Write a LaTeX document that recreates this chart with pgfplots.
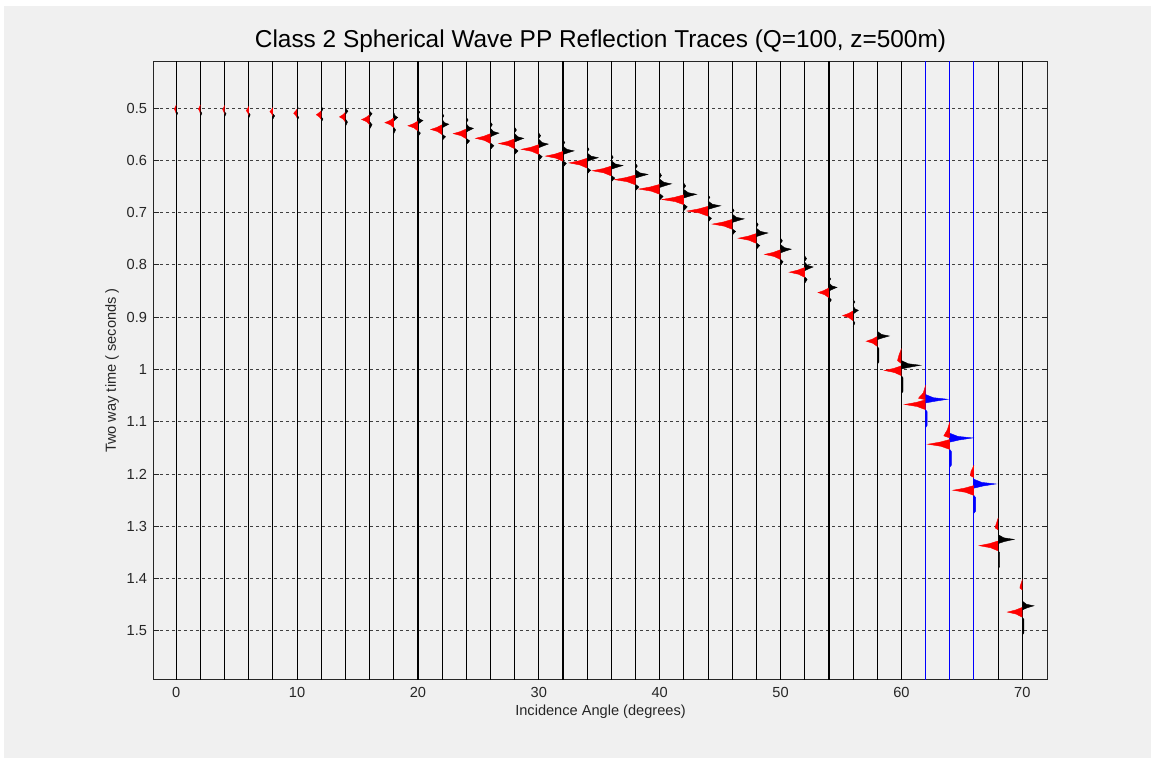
\documentclass[border=0pt]{standalone}
\usepackage{pgfplots}
\pgfplotsset{compat=1.18}
\usepackage{fontspec}
\setmainfont{Liberation Sans}
\definecolor{figgrey}{RGB}{240,240,240}
\definecolor{axcol}{RGB}{38,38,38}
\begin{document}
\begin{tikzpicture}
\useasboundingbox (-77pt,-39.5pt) rectangle (498.5pt,339.5pt);
\fill[white] (-77pt,-39.5pt) rectangle (498.5pt,339.5pt);
\fill[figgrey] (-75pt,-39.5pt) rectangle (498.5pt,336.5pt);
\begin{axis}[
  scale only axis, width=446.5pt, height=308.5pt,
  xmin=-1.84, xmax=72.04, ymin=0.412, ymax=1.592, y dir=reverse,
  unbounded coords=jump,
  xtick={0,10,20,30,40,50,60,70},
  xticklabels={0,10,20,30,40,50,60,70},
  ytick={0.5,0.6,0.7,0.8,0.9,1,1.1,1.2,1.3,1.4,1.5},
  yticklabels={0.5,0.6,0.7,0.8,0.9,1,1.1,1.2,1.3,1.4,1.5},
  ymajorgrids,
  grid style={dash pattern=on 1.5pt off 1.5pt, line width=0.5pt, color=black!75},
  axis line style={axcol, line width=0.5pt},
  tick style={axcol, line width=0.5pt},
  tick align=inside, major tick length=2.5pt,
  ticklabel style={font=\fontsize{7.3}{8}\selectfont, text=axcol},
  xticklabel style={anchor=center, yshift=-6.5pt},
  every axis title shift=0pt,
  title={Class 2 Spherical Wave PP Reflection Traces (Q=100, z=500m)},
  title style={font=\fontsize{12.2}{14}\selectfont, text=black, at={(axis description cs:0.5,1.034)}, anchor=center},
  xlabel={Incidence Angle (degrees)},
  xlabel style={font=\fontsize{7.3}{8}\selectfont, text=axcol, at={(axis description cs:0.5,-0.0535)}, anchor=center},
  ylabel={Two way time ( seconds )},
  ylabel style={font=\fontsize{7.3}{8}\selectfont, text=axcol, at={(axis description cs:-0.047,0.5)}, anchor=center},
]
% trace lines (black)
\addplot[black, line width=0.55pt] table[row sep=\\] {x y\\
0 0.3\\ 0 1.7\\ nan nan\\ 2 0.3\\ 2 1.7\\ nan nan\\ 4 0.3\\ 4 1.7\\ nan nan\\ 6 0.3\\ 6 1.7\\ nan nan\\
8 0.3\\ 8 1.7\\ nan nan\\ 10 0.3\\ 10 1.7\\ nan nan\\ 12 0.3\\ 12 1.7\\ nan nan\\ 14 0.3\\ 14 1.7\\ nan nan\\
16 0.3\\ 16 1.7\\ nan nan\\ 18 0.3\\ 18 1.7\\ nan nan\\ 20 0.3\\ 20 1.7\\ nan nan\\ 22 0.3\\ 22 1.7\\ nan nan\\
24 0.3\\ 24 1.7\\ nan nan\\ 26 0.3\\ 26 1.7\\ nan nan\\ 28 0.3\\ 28 1.7\\ nan nan\\ 30 0.3\\ 30 1.7\\ nan nan\\
32 0.3\\ 32 1.7\\ nan nan\\ 34 0.3\\ 34 1.7\\ nan nan\\ 36 0.3\\ 36 1.7\\ nan nan\\ 38 0.3\\ 38 1.7\\ nan nan\\
40 0.3\\ 40 1.7\\ nan nan\\ 42 0.3\\ 42 1.7\\ nan nan\\ 44 0.3\\ 44 1.7\\ nan nan\\ 46 0.3\\ 46 1.7\\ nan nan\\
48 0.3\\ 48 1.7\\ nan nan\\ 50 0.3\\ 50 1.7\\ nan nan\\ 52 0.3\\ 52 1.7\\ nan nan\\ 54 0.3\\ 54 1.7\\ nan nan\\
56 0.3\\ 56 1.7\\ nan nan\\ 58 0.3\\ 58 1.7\\ nan nan\\ 60 0.3\\ 60 1.7\\ nan nan\\
68 0.3\\ 68 1.7\\ nan nan\\ 70 0.3\\ 70 1.7\\
};
% trace lines (blue)
\addplot[blue, line width=0.5pt] table[row sep=\\] {x y\\
62 0.3\\ 62 1.7\\ nan nan\\ 64 0.3\\ 64 1.7\\ nan nan\\ 66 0.3\\ 66 1.7\\
};
% negative lobes (red)
\addplot[fill=red, draw=red, line width=0.2pt] table[row sep=\\] {x y\\
0 0.494\\ -0.074 0.498\\ -0.165 0.502\\ -0.066 0.506\\ 0 0.511\\ nan nan\\
2 0.494\\ 1.926 0.498\\ 1.835 0.502\\ 1.934 0.506\\ 2 0.511\\ nan nan\\
4 0.495\\ 3.926 0.499\\ 3.835 0.503\\ 3.934 0.507\\ 4 0.512\\ nan nan\\
6 0.497\\ 5.906 0.501\\ 5.79 0.505\\ 5.916 0.509\\ 6 0.514\\ nan nan\\
8 0.499\\ 7.888 0.503\\ 7.75 0.507\\ 7.9 0.511\\ 8 0.516\\ nan nan\\
10 0.502\\ 9.87 0.506\\ 9.71 0.510\\ 9.884 0.514\\ 10 0.519\\ nan nan\\
12 0.505\\ 11.816 0.509\\ 11.59 0.513\\ 11.836 0.517\\ 12 0.522\\ nan nan\\
14 0.508\\ 13.775 0.513\\ 13.5 0.517\\ 13.8 0.521\\ 14 0.527\\ nan nan\\
16 0.513\\ 15.703 0.518\\ 15.34 0.522\\ 15.736 0.526\\ 16 0.532\\ nan nan\\
18 0.519\\ 17.667 0.524\\ 17.26 0.528\\ 17.704 0.532\\ 18 0.538\\ nan nan\\
20 0.525\\ 19.627 0.530\\ 19.17 0.534\\ 19.668 0.538\\ 20 0.544\\ nan nan\\
22 0.532\\ 21.573 0.537\\ 21.05 0.541\\ 21.62 0.545\\ 22 0.551\\ nan nan\\
24 0.540\\ 23.514 0.545\\ 22.92 0.549\\ 23.568 0.553\\ 24 0.559\\ nan nan\\
26 0.549\\ 25.442 0.554\\ 24.76 0.558\\ 25.504 0.562\\ 26 0.568\\ nan nan\\
28 0.559\\ 27.406 0.564\\ 26.68 0.568\\ 27.472 0.572\\ 28 0.578\\ nan nan\\
30 0.570\\ 29.348 0.575\\ 28.55 0.579\\ 29.42 0.583\\ 30 0.589\\ nan nan\\
32 0.583\\ 31.348 0.588\\ 30.55 0.592\\ 31.42 0.596\\ 32 0.602\\ nan nan\\
34 0.596\\ 33.33 0.601\\ 32.51 0.605\\ 33.404 0.609\\ 34 0.615\\ nan nan\\
36 0.611\\ 35.294 0.616\\ 34.43 0.620\\ 35.372 0.624\\ 36 0.630\\ nan nan\\
38 0.628\\ 37.217 0.633\\ 36.26 0.637\\ 37.304 0.641\\ 38 0.647\\ nan nan\\
40 0.646\\ 39.217 0.651\\ 38.26 0.655\\ 39.304 0.659\\ 40 0.665\\ nan nan\\
42 0.666\\ 41.181 0.671\\ 40.18 0.675\\ 41.272 0.679\\ 42 0.685\\ nan nan\\
44 0.688\\ 43.217 0.693\\ 42.26 0.697\\ 43.304 0.701\\ 44 0.707\\ nan nan\\
46 0.713\\ 45.258 0.718\\ 44.35 0.722\\ 45.34 0.726\\ 46 0.732\\ nan nan\\
48 0.740\\ 47.33 0.745\\ 46.51 0.749\\ 47.404 0.753\\ 48 0.759\\ nan nan\\
50 0.771\\ 49.406 0.776\\ 48.68 0.780\\ 49.472 0.784\\ 50 0.790\\ nan nan\\
52 0.805\\ 51.424 0.810\\ 50.72 0.814\\ 51.488 0.818\\ 52 0.824\\ nan nan\\
54 0.844\\ 53.59 0.849\\ 53.09 0.853\\ 53.636 0.857\\ 54 0.863\\ nan nan\\
56 0.888\\ 55.609 0.893\\ 55.13 0.897\\ 55.652 0.901\\ 56 0.907\\ nan nan\\
58 0.937\\ 57.59 0.942\\ 57.09 0.946\\ 57.636 0.950\\ 58 0.956\\ nan nan\\
60 0.993\\ 59.366 0.998\\ 58.59 1.002\\ 59.436 1.006\\ 60 1.012\\ nan nan\\
62 1.058\\ 61.217 1.063\\ 60.26 1.067\\ 61.304 1.071\\ 62 1.077\\ nan nan\\
64 1.134\\ 63.181 1.139\\ 62.18 1.143\\ 63.272 1.147\\ 64 1.153\\ nan nan\\
66 1.222\\ 65.217 1.227\\ 64.26 1.231\\ 65.304 1.235\\ 66 1.241\\ nan nan\\
68 1.328\\ 67.294 1.333\\ 66.43 1.337\\ 67.372 1.341\\ 68 1.347\\ nan nan\\
70 1.455\\ 69.442 1.460\\ 68.76 1.464\\ 69.504 1.468\\ 70 1.474\\ nan nan\\
60 0.960\\ 59.8 0.972\\ 59.67 0.983\\ 60 0.989\\ nan nan\\
62 1.030\\ 61.8 1.045\\ 61.4 1.055\\ 62 1.058\\ nan nan\\
64 1.100\\ 63.8 1.115\\ 63.5 1.127\\ 64 1.131\\ nan nan\\
66 1.183\\ 65.75 1.195\\ 65.7 1.203\\ 66 1.207\\ nan nan\\
68 1.284\\ 67.8 1.298\\ 67.75 1.303\\ 68 1.307\\ nan nan\\
70 1.402\\ 69.82 1.414\\ 69.8 1.418\\ 70 1.422\\
};
% positive lobes (black)
\addplot[fill=black, draw=black, line width=0.2pt] table[row sep=\\] {x y\\
0 0.506\\ 0.12 0.510\\ 0 0.516\\ nan nan\\
2 0.506\\ 2.12 0.510\\ 2 0.516\\ nan nan\\
4 0.507\\ 4.12 0.511\\ 4 0.517\\ nan nan\\
6 0.509\\ 6.12 0.513\\ 6 0.519\\ nan nan\\
8 0.511\\ 8.14 0.515\\ 8 0.521\\ nan nan\\
10 0.514\\ 10.14 0.518\\ 10 0.524\\ nan nan\\
12 0.517\\ 12.14 0.521\\ 12 0.527\\ nan nan\\
14 0.521\\ 14.17 0.527\\ 14 0.535\\ nan nan\\
16 0.526\\ 16.2 0.532\\ 16 0.540\\ nan nan\\
10 0.494\\ 10.08 0.499\\ 10 0.505\\ nan nan\\
12 0.497\\ 12.14 0.502\\ 12 0.508\\ nan nan\\
14 0.501\\ 14.21 0.506\\ 14 0.512\\ nan nan\\
16 0.506\\ 16.2 0.511\\ 16 0.517\\ nan nan\\
18 0.509\\ 18.116 0.515\\ 18.33 0.518\\ 18.132 0.522\\ 18 0.525\\ nan nan\\
20 0.515\\ 20.144 0.521\\ 20.41 0.524\\ 20.164 0.528\\ 20 0.531\\ nan nan\\
22 0.522\\ 22.193 0.528\\ 22.55 0.531\\ 22.22 0.535\\ 22 0.538\\ nan nan\\
24 0.530\\ 24.203 0.536\\ 24.58 0.539\\ 24.232 0.543\\ 24 0.546\\ nan nan\\
26 0.539\\ 26.245 0.545\\ 26.70 0.548\\ 26.28 0.552\\ 26 0.555\\ nan nan\\
28 0.549\\ 28.259 0.555\\ 28.74 0.558\\ 28.296 0.562\\ 28 0.565\\ nan nan\\
30 0.560\\ 30.273 0.566\\ 30.78 0.569\\ 30.312 0.573\\ 30 0.576\\ nan nan\\
32 0.573\\ 32.319 0.579\\ 32.91 0.582\\ 32.364 0.586\\ 32 0.589\\ nan nan\\
34 0.586\\ 34.319 0.592\\ 34.91 0.595\\ 34.364 0.599\\ 34 0.602\\ nan nan\\
36 0.601\\ 36.333 0.607\\ 36.95 0.610\\ 36.38 0.614\\ 36 0.617\\ nan nan\\
38 0.618\\ 38.357 0.624\\ 39.02 0.627\\ 38.408 0.631\\ 38 0.634\\ nan nan\\
40 0.636\\ 40.34 0.642\\ 40.97 0.645\\ 40.388 0.649\\ 40 0.652\\ nan nan\\
42 0.656\\ 42.368 0.662\\ 43.05 0.665\\ 42.42 0.669\\ 42 0.672\\ nan nan\\
44 0.678\\ 44.361 0.684\\ 45.03 0.687\\ 44.412 0.691\\ 44 0.694\\ nan nan\\
46 0.703\\ 46.347 0.709\\ 46.99 0.712\\ 46.396 0.716\\ 46 0.719\\ nan nan\\
48 0.730\\ 48.333 0.736\\ 48.95 0.739\\ 48.38 0.743\\ 48 0.746\\ nan nan\\
50 0.761\\ 50.308 0.767\\ 50.88 0.770\\ 50.352 0.774\\ 50 0.777\\ nan nan\\
52 0.795\\ 52.242 0.801\\ 52.69 0.804\\ 52.276 0.808\\ 52 0.811\\ nan nan\\
54 0.834\\ 54.231 0.840\\ 54.66 0.843\\ 54.264 0.847\\ 54 0.850\\ nan nan\\
56 0.878\\ 56.154 0.884\\ 56.44 0.887\\ 56.176 0.891\\ 56 0.894\\ nan nan\\
58 0.927\\ 58.347 0.933\\ 58.99 0.936\\ 58.396 0.940\\ 58 0.943\\ nan nan\\
60 0.983\\ 60.55 0.989\\ 61.57 0.992\\ 60.628 0.996\\ 60 0.999\\ nan nan\\
68 1.316\\ 68.462 1.322\\ 69.32 1.325\\ 68.528 1.329\\ 68 1.333\\ nan nan\\
70 1.443\\ 70.333 1.449\\ 70.95 1.452\\ 70.38 1.456\\ 70 1.460\\ nan nan\\
18 0.537\\ 18.15 0.542\\ 18 0.549\\ nan nan\\
20 0.543\\ 20.2 0.548\\ 20 0.555\\ nan nan\\
22 0.550\\ 22.28 0.555\\ 22 0.562\\ nan nan\\
24 0.558\\ 24.28 0.563\\ 24 0.570\\ nan nan\\
26 0.567\\ 26.28 0.572\\ 26 0.579\\ nan nan\\
28 0.577\\ 28.28 0.582\\ 28 0.589\\ nan nan\\
30 0.588\\ 30.28 0.593\\ 30 0.600\\ nan nan\\
32 0.601\\ 32.28 0.606\\ 32 0.613\\ nan nan\\
34 0.614\\ 34.28 0.619\\ 34 0.626\\ nan nan\\
36 0.629\\ 36.28 0.634\\ 36 0.641\\ nan nan\\
38 0.646\\ 38.28 0.651\\ 38 0.658\\ nan nan\\
40 0.664\\ 40.28 0.669\\ 40 0.676\\ nan nan\\
42 0.684\\ 42.28 0.689\\ 42 0.696\\ nan nan\\
44 0.706\\ 44.28 0.711\\ 44 0.718\\ nan nan\\
46 0.731\\ 46.28 0.736\\ 46 0.743\\ nan nan\\
48 0.758\\ 48.28 0.763\\ 48 0.770\\ nan nan\\
50 0.789\\ 50.2 0.794\\ 50 0.801\\ nan nan\\
52 0.823\\ 52.2 0.828\\ 52 0.835\\ nan nan\\
54 0.862\\ 54.2 0.867\\ 54 0.874\\ nan nan\\
56 0.906\\ 56.15 0.911\\ 56 0.918\\ nan nan\\
20 0.503\\ 20.15 0.508\\ 20 0.513\\ nan nan\\
22 0.510\\ 22.15 0.515\\ 22 0.520\\ nan nan\\
24 0.518\\ 24.15 0.523\\ 24 0.528\\ nan nan\\
26 0.527\\ 26.15 0.532\\ 26 0.537\\ nan nan\\
28 0.537\\ 28.15 0.542\\ 28 0.547\\ nan nan\\
30 0.548\\ 30.15 0.553\\ 30 0.558\\ nan nan\\
32 0.561\\ 32.15 0.566\\ 32 0.571\\ nan nan\\
34 0.574\\ 34.15 0.579\\ 34 0.584\\ nan nan\\
36 0.589\\ 36.15 0.594\\ 36 0.599\\ nan nan\\
38 0.606\\ 38.15 0.611\\ 38 0.616\\ nan nan\\
40 0.624\\ 40.15 0.629\\ 40 0.634\\ nan nan\\
42 0.644\\ 42.15 0.649\\ 42 0.654\\ nan nan\\
44 0.666\\ 44.15 0.671\\ 44 0.676\\ nan nan\\
46 0.691\\ 46.15 0.696\\ 46 0.701\\ nan nan\\
48 0.718\\ 48.15 0.723\\ 48 0.728\\ nan nan\\
50 0.749\\ 50.15 0.754\\ 50 0.759\\ nan nan\\
52 0.783\\ 52.15 0.788\\ 52 0.793\\ nan nan\\
54 0.822\\ 54.15 0.827\\ 54 0.832\\ nan nan\\
56 0.866\\ 56.15 0.871\\ 56 0.876\\ nan nan\\
58 0.956\\ 58.13 0.960\\ 58.13 0.986\\ 58 0.990\\ nan nan\\
60 1.012\\ 60.13 1.016\\ 60.13 1.042\\ 60 1.046\\ nan nan\\
68 1.347\\ 68.13 1.351\\ 68.13 1.377\\ 68 1.381\\ nan nan\\
70 1.474\\ 70.13 1.478\\ 70.13 1.504\\ 70 1.508\\
};
% positive lobes (blue traces)
\addplot[fill=blue, draw=blue, line width=0.2pt] table[row sep=\\] {x y\\
62 1.048\\ 62.637 1.054\\ 63.82 1.057\\ 62.728 1.061\\ 62 1.064\\ nan nan\\
64 1.122\\ 64.665 1.128\\ 65.90 1.131\\ 64.76 1.135\\ 64 1.139\\ nan nan\\
66 1.210\\ 66.637 1.216\\ 67.82 1.219\\ 66.728 1.223\\ 66 1.227\\ nan nan\\
62 1.077\\ 62.13 1.081\\ 62.13 1.107\\ 62 1.111\\ nan nan\\
64 1.153\\ 64.13 1.157\\ 64.13 1.183\\ 64 1.187\\ nan nan\\
66 1.241\\ 66.13 1.245\\ 66.13 1.271\\ 66 1.275\\
};
\end{axis}
\end{tikzpicture}
\end{document}
